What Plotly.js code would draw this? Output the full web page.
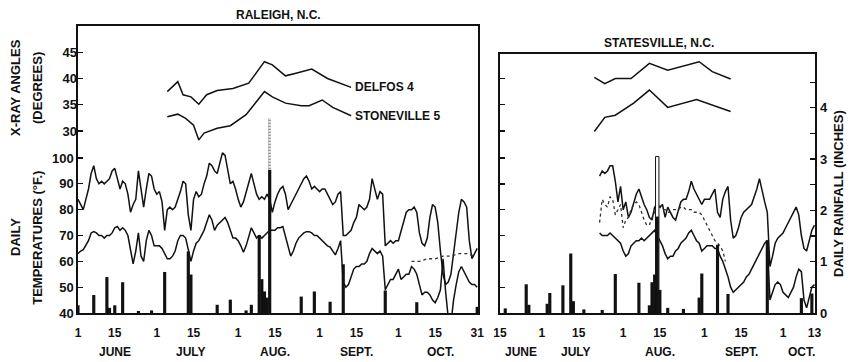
<!DOCTYPE html>
<html>
<head>
<meta charset="utf-8">
<script src="https://cdn.plot.ly/plotly-3.0.1.min.js"></script>
<style>
  html, body { margin: 0; padding: 0; background: #fff; }
  #chart { width: 850px; height: 362px; }
</style>
</head>
<body>
<div id="chart"></div>
<script>
// Day numbers count from June 1 (day 0) through October 31 (day 152).

// ---- Raleigh, N.C. : daily temperatures (deg F), June 1 - Oct 31 ----
const raleighFirstDay = 0;
const raleighMaxTemp = [
  84, 82, 80, 84, 88, 94, 97, 92, 90, 91,
  90, 91, 92, 95, 96, 92, 88, 91, 90, 86,
  79, 82, 84, 95, 87, 81, 88, 94, 93, 88,
  86, 87, 83, 72, 80, 81, 80, 81, 84, 87,
  91, 90, 78, 72, 84, 87, 85, 86, 90, 93,
  98, 97, 95, 94, 98, 102, 101, 95, 90, 91,
  88, 84, 81, 83, 87, 90, 94, 90, 86, 84,
  85, 84, 86, 84, 79, 83, 86, 88, 89, 86,
  80, 82, 84, 86, 88, 90, 92, 93, 91, 88,
  89, 88, 87, 88, 88, 86, 84, 82, 83, 86,
  87, 70, 70, 71, 72, 75, 77, 82, 81, 80,
  81, 84, 92, 88, 84, 87, 86, 66, 67, 68,
  67, 68, 68, 72, 76, 79, 80, 80, 81, 79,
  71, 67, 66, 69, 77, 82, 81, 75, 64, 55,
  51, 52, 55, 63, 72, 79, 84, 83, 81, 68,
  61, 63, 65
];
const raleighMinTemp = [
  63, 64, 64.5, 66, 68, 71, 71.5, 71, 70, 70,
  69, 70, 70, 71, 73, 73.5, 72, 73, 72, 70,
  64, 59, 64, 71, 62, 60, 68, 72, 70, 66,
  66, 66, 65, 63, 61, 61, 62, 64, 68, 70,
  70, 69, 64, 60, 64, 67, 68, 70, 72, 75,
  78, 76, 72, 74, 75, 76, 77, 75, 72, 69,
  69, 68, 66, 63.5, 66, 70, 73, 71, 69, 70,
  69, 70, 71, 72, 72, 72, 73, 73, 73.5, 70,
  66, 62, 64, 67, 69, 70, 71, 71.5, 71.5, 71,
  70, 70, 69, 68, 67, 66, 65.5, 64, 62.5, 65,
  68, 52, 50, 51, 54, 57, 58, 58, 59, 59,
  60, 63, 65, 64, 63, 64, 62, 49, 51, 53,
  53, 55, 57, 53, 54, 55, 55, 58, 57, 55,
  51, 47, 48, 48, 47, 45, 44, 46, 49, 61,
  48, 38, 36, 45, 51, 56, 58, 56, 54, 52,
  51, 51, 50
];
const raleighDottedDays = [127, 130, 133, 136, 139, 142, 145, 148, 151];
const raleighDottedTemp = [60, 60, 61, 61, 62, 62, 63, 63, 62];

// Raleigh daily rainfall (inches)
const raleighRainDays = [0, 6, 11, 12, 14, 17, 23, 28, 33, 42, 43, 53, 58, 64, 66, 69, 70, 71, 72, 73, 85, 90, 96, 101, 117, 129, 152];
const raleighRain     = [0.15, 0.35, 0.7, 0.1, 0.15, 0.6, 0.04, 0.05, 0.8, 1.2, 0.75, 0.16, 0.26, 0.05, 0.16, 1.52, 0.66, 0.42, 0.3, 2.79, 0.32, 0.42, 0.22, 0.95, 0.44, 0.21, 0.12];
const raleighStormDays = [73];
const raleighStormRain = [3.8];

// Raleigh fibre X-ray angles (degrees)
const raleighDelfosDays = [34, 38, 40, 43, 46, 49, 53, 59, 65, 71, 74, 79, 83, 89, 95, 104];
const raleighDelfosAngle = [37.5, 39.4, 36.9, 36.5, 35.1, 36.9, 37.7, 38.1, 39.1, 43.2, 42.6, 40.5, 41, 41.8, 40, 38.3];
const raleighStonevilleDays = [34, 38, 41, 44, 46, 48, 53, 58, 64, 71, 74, 79, 85, 88, 93, 97, 104];
const raleighStonevilleAngle = [32.7, 33.2, 32.4, 31.1, 28.3, 29.6, 30.5, 31, 33.1, 37.5, 36.5, 35.3, 34.8, 34.8, 35.9, 34.5, 32.9];

// ---- Statesville, N.C. ----
const statesvilleFirstDay = 52;
const statesvilleMaxTemp = [
  93, 95, 94, 95, 97, 97, 91, 83, 89, 80,
  83, 77, 79, 83, 86, 88, 85, 82, 80, 77,
  76, 81, 82, 81, 82, 77, 81, 79, 77, 76,
  80, 83, 84, 84, 87, 91, 88, 86, 84, 82,
  84, 84, 84, 86, 88, 79, 77, 84, 87, 89,
  76, 69, 70, 73, 77, 79, 80, 81, 82, 85,
  88, 92, 87, 83, 79, 58, 62, 67, 69, 70,
  71, 73, 75, 77, 79, 81, 78, 70, 65, 64,
  68, 72, 74
];
const statesvilleMinTemp = [
  71, 70, 70, 70, 71, 70, 69, 68, 67, 64,
  62, 63, 66, 67, 68, 68, 69, 68, 69, 70,
  71, 72, 70, 68, 66, 63, 61, 62, 62, 64,
  65, 67, 68, 69, 71, 72, 70, 68, 67, 64,
  65, 66, 66, 66, 65, 65, 62, 60, 57, 54,
  50, 48, 49, 50, 51, 52, 54, 55, 57, 59,
  61, 63, 65, 67, 68, 45, 48, 51, 52, 51,
  48, 47, 46, 48, 50, 54, 57, 56, 45, 42,
  46, 50, 51
];
const statesvilleDottedTemp = [
  75, 84, 82, 81, 85, 84, 78, 80, 82, 73,
  76, 77, 80, 82, 83, 82, 79, 76, 74, 74,
  77, 79, 82, 81, 80, 80, 79, 79, 80, 80,
  80, 81, 81, 80, 80, 80, 79, 79, 79, 78,
  76, 74, 72, 70, 68, 67, 66, 64, 60
];

const statesvilleRainDays = [16, 24, 25, 32, 33, 38, 41, 42, 46, 53, 58, 67, 71, 72, 73, 74, 75, 78, 84, 90, 91, 97, 101, 116, 129, 133];
const statesvilleRain     = [0.09, 0.56, 0.16, 0.18, 0.39, 0.54, 1.16, 0.23, 0.07, 0.06, 0.76, 0.59, 0.15, 0.6, 0.75, 1.88, 0.45, 0.1, 0.08, 0.3, 0.77, 1.33, 0.37, 1.42, 0.29, 0.38];
const statesvilleStormDays = [74];
const statesvilleStormRain = [3.05];

const statesvilleDelfosDays = [50, 54, 58, 64, 71, 78, 90, 95, 102];
const statesvilleDelfosAngle = [40.2, 39, 40, 40, 42.9, 41.6, 43.2, 41.3, 39.9];
const statesvilleStonevilleDays = [50, 54, 58, 65, 71, 78, 89, 95, 102];
const statesvilleStonevilleAngle = [29.9, 32.6, 33, 35.3, 37.8, 34.5, 36, 35, 33.7];

// Axis ticks
const raleighTickDays = [0, 14, 30, 44, 61, 75, 92, 106, 122, 136, 152];
const raleighTickText = ['1', '15', '1', '15', '1', '15', '1', '15', '1', '15', '31'];
const statesvilleTickDays = [14, 30, 44, 61, 75, 92, 106, 122, 134];
const statesvilleTickText = ['15', '1', '15', '1', '15', '1', '15', '1', '13'];
const raleighMonths = ['JUNE', 'JULY', 'AUG.', 'SEPT.', 'OCT.'];
const raleighMonthDays = [14, 43, 75, 106, 138];
const statesvilleMonths = ['JUNE', 'JULY', 'AUG.', 'SEPT.', 'OCT.'];
const statesvilleMonthDays = [22, 43, 75, 106, 129];
const tempTicks = [40, 50, 60, 70, 80, 90, 100];
const angleTicks = [30, 35, 40, 45];
const rainTicks = [0, 0.5, 1, 1.5, 2, 2.5, 3, 3.5, 4, 4.5];
const rainTickText = ['0', '', '1', '', '2', '', '3', '', '4', ''];

const daysFrom = (first, arr) => arr.map((_, i) => first + i);

const INK = '#111';
const FONT = 'Liberation Sans, Arial, sans-serif';

const line = (x, y, xa, ya, extra) => Object.assign({
  type: 'scatter', mode: 'lines', x: x, y: y, xaxis: xa, yaxis: ya,
  line: { color: INK, width: 1.5 }, hoverinfo: 'skip', showlegend: false
}, extra || {});

const traces = [
  // Raleigh rainfall
  { type: 'bar', x: raleighStormDays, y: raleighStormRain, xaxis: 'x', yaxis: 'y3', width: 0.9,
    marker: { color: 'rgba(255,255,255,0)', line: { width: 0 },
      pattern: { shape: '.', fgcolor: '#444', bgcolor: 'rgba(255,255,255,0)', size: 3, solidity: 0.45 } },
    showlegend: false, hoverinfo: 'skip' },
  { type: 'bar', x: raleighRainDays, y: raleighRain, xaxis: 'x', yaxis: 'y3', width: 1.2,
    marker: { color: INK, line: { width: 0 } }, showlegend: false, hoverinfo: 'skip' },
  // Raleigh temperatures
  line(daysFrom(raleighFirstDay, raleighMaxTemp), raleighMaxTemp, 'x', 'y'),
  line(daysFrom(raleighFirstDay, raleighMinTemp), raleighMinTemp, 'x', 'y'),
  line(raleighDottedDays, raleighDottedTemp, 'x', 'y', { line: { color: '#333', width: 1.3, dash: 'dot' } }),
  // Raleigh X-ray angles
  line(raleighDelfosDays, raleighDelfosAngle, 'x', 'y2'),
  line(raleighStonevilleDays, raleighStonevilleAngle, 'x', 'y2'),

  // Statesville rainfall
  { type: 'bar', x: statesvilleStormDays, y: statesvilleStormRain, xaxis: 'x2', yaxis: 'y6', width: 1.3,
    marker: { color: '#fff', line: { color: INK, width: 1 } }, showlegend: false, hoverinfo: 'skip' },
  { type: 'bar', x: statesvilleRainDays, y: statesvilleRain, xaxis: 'x2', yaxis: 'y6', width: 1.2,
    marker: { color: INK, line: { width: 0 } }, showlegend: false, hoverinfo: 'skip' },
  // Statesville temperatures
  line(daysFrom(statesvilleFirstDay, statesvilleMaxTemp), statesvilleMaxTemp, 'x2', 'y4'),
  line(daysFrom(statesvilleFirstDay, statesvilleMinTemp), statesvilleMinTemp, 'x2', 'y4'),
  line(daysFrom(statesvilleFirstDay, statesvilleDottedTemp), statesvilleDottedTemp, 'x2', 'y4',
    { line: { color: '#333', width: 1.3, dash: 'dot' } }),
  // Statesville X-ray angles
  line(statesvilleDelfosDays, statesvilleDelfosAngle, 'x2', 'y5'),
  line(statesvilleStonevilleDays, statesvilleStonevilleAngle, 'x2', 'y5')
];

const axisBase = { showgrid: false, zeroline: false, linecolor: INK, tickcolor: INK,
  tickfont: { family: FONT, size: 12, color: INK, weight: 'bold' } };

const annotationFont = (size) => ({ family: FONT, size: size, color: INK, weight: 'bold' });

// Free-standing label centred on a paper position
const label = (text, x, y, size, angle) => ({
  text: text, xref: 'paper', yref: 'paper', x: x, y: y, xanchor: 'center', yanchor: 'middle',
  textangle: angle || 0, showarrow: false, font: annotationFont(size)
});

const annotations = [
  label('RALEIGH, N.C.', 0.2727, 1.038, 12),
  label('STATESVILLE, N.C.', 0.788, 0.941, 12),
  label('X-RAY ANGLES', -0.0841, 0.784, 13, -90),
  label('(DEGREES)', -0.0543, 0.784, 13, -90),
  label('DAILY', -0.0841, 0.265, 13, -90),
  label('TEMPERATURES (°F.)', -0.0543, 0.262, 13, -90),
  label('DAILY RAINFALL (INCHES)', 1.031, 0.418, 13, -90),
  { text: 'DELFOS 4', xref: 'x', yref: 'y2', x: raleighDelfosDays[raleighDelfosDays.length - 1],
    y: raleighDelfosAngle[raleighDelfosAngle.length - 1], xanchor: 'left', yanchor: 'middle', xshift: 2,
    showarrow: false, font: annotationFont(12) },
  { text: 'STONEVILLE 5', xref: 'x', yref: 'y2', x: raleighStonevilleDays[raleighStonevilleDays.length - 1],
    y: raleighStonevilleAngle[raleighStonevilleAngle.length - 1], xanchor: 'left', yanchor: 'middle', xshift: 2,
    showarrow: false, font: annotationFont(12) }
];
raleighMonths.forEach((m, i) => annotations.push({ text: m, xref: 'x', yref: 'paper', x: raleighMonthDays[i],
  y: -0.136, xanchor: 'center', yanchor: 'middle', showarrow: false, font: annotationFont(12) }));
statesvilleMonths.forEach((m, i) => annotations.push({ text: m, xref: 'x2', yref: 'paper', x: statesvilleMonthDays[i],
  y: -0.136, xanchor: 'center', yanchor: 'middle', showarrow: false, font: annotationFont(12) }));

const layout = {
  width: 850, height: 362,
  margin: { l: 78, r: 35, t: 26, b: 49 },
  paper_bgcolor: '#fff', plot_bgcolor: 'rgba(0,0,0,0)',
  barmode: 'overlay', showlegend: false,
  font: { family: FONT, color: INK },
  xaxis: Object.assign({}, axisBase, {
    domain: [0, 0.5427], range: [0, 152.3], anchor: 'y',
    showline: true, mirror: true, linewidth: 1.6, ticks: '',
    tickmode: 'array', tickvals: raleighTickDays, ticktext: raleighTickText, ticklabelstandoff: 8
  }),
  yaxis: Object.assign({}, axisBase, {
    domain: [0, 1], range: [40, 151.1], anchor: 'x',
    showline: true, mirror: true, linewidth: 1.6,
    ticks: 'inside', ticklen: 5, tickwidth: 1.3,
    tickmode: 'array', tickvals: tempTicks, tickfont: { family: FONT, size: 13, color: INK, weight: 'bold' }
  }),
  yaxis2: Object.assign({}, axisBase, {
    overlaying: 'y', anchor: 'x', side: 'left', range: [-4.69, 50.0],
    showline: false, ticks: 'inside', ticklen: 5, tickwidth: 1.3,
    tickmode: 'array', tickvals: angleTicks, tickfont: { family: FONT, size: 13, color: INK, weight: 'bold' }
  }),
  yaxis3: { overlaying: 'y', anchor: 'x', range: [0, 5.594], visible: false },
  xaxis2: Object.assign({}, axisBase, {
    domain: [0.5726, 1], range: [14, 134.2], anchor: 'y4',
    showline: true, mirror: true, linewidth: 1.6, ticks: '',
    tickmode: 'array', tickvals: statesvilleTickDays, ticktext: statesvilleTickText, ticklabelstandoff: 8
  }),
  yaxis4: Object.assign({}, axisBase, {
    domain: [0, 0.9024], range: [40, 140.27], anchor: 'x2',
    showline: true, mirror: true, linewidth: 1.6,
    ticks: 'inside', ticklen: 5, tickwidth: 1.3,
    tickmode: 'array', tickvals: tempTicks, showticklabels: false
  }),
  yaxis5: Object.assign({}, axisBase, {
    overlaying: 'y4', anchor: 'x2', side: 'left', range: [-4.69, 44.67],
    showline: false, ticks: 'inside', ticklen: 5, tickwidth: 1.3,
    tickmode: 'array', tickvals: angleTicks, showticklabels: false
  }),
  yaxis6: Object.assign({}, axisBase, {
    overlaying: 'y4', anchor: 'x2', side: 'right', range: [0, 5.049],
    showline: false, ticks: 'inside', ticklen: 5, tickwidth: 1.3,
    tickmode: 'array', tickvals: rainTicks, ticktext: rainTickText, ticklabelstandoff: 4,
    tickfont: { family: FONT, size: 13, color: INK, weight: 'bold' }
  }),
  annotations: annotations
};

Plotly.newPlot('chart', traces, layout, { staticPlot: true, displayModeBar: false });
</script>
</body>
</html>
